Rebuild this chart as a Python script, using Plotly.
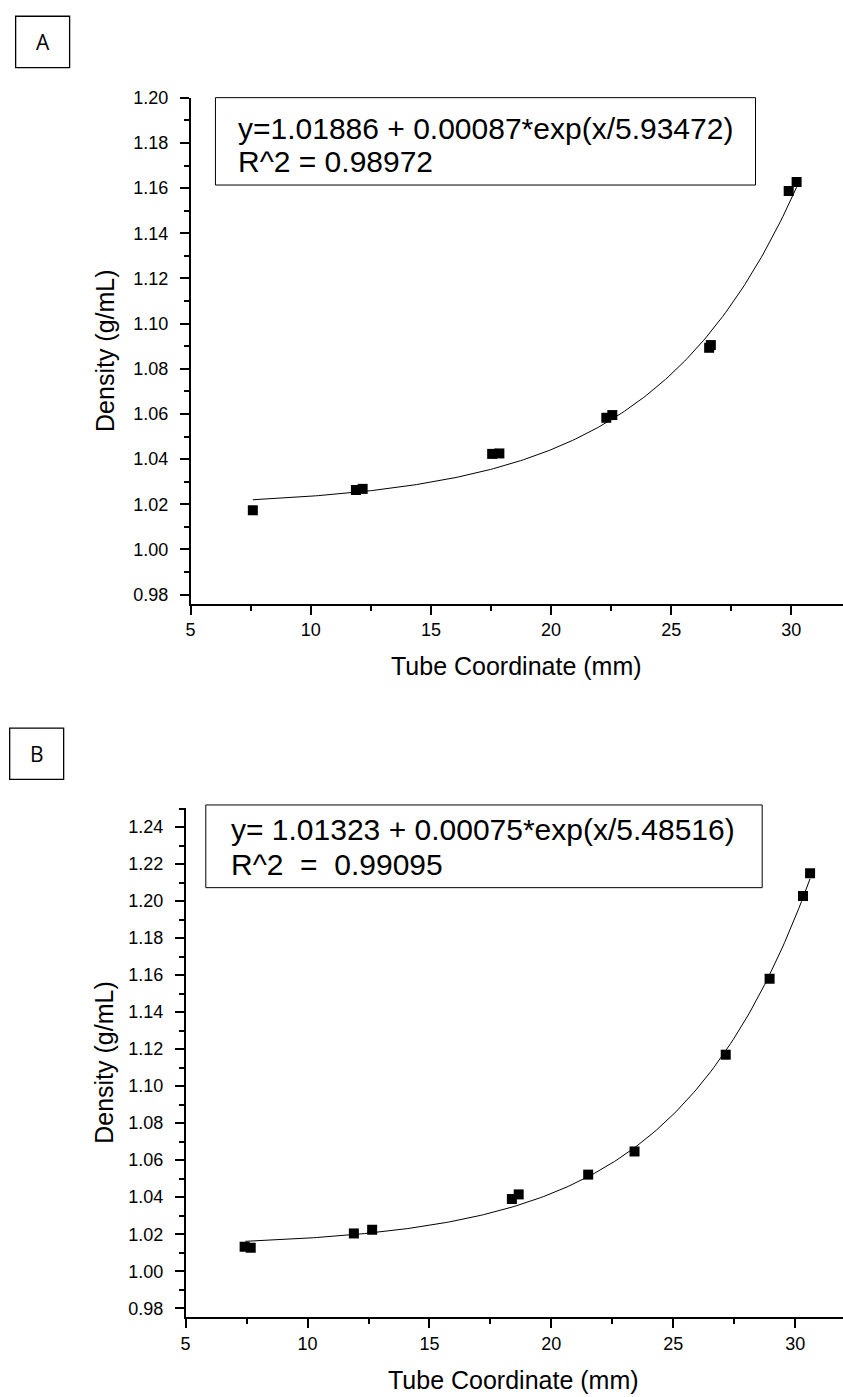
import numpy as np
import plotly.graph_objects as go

W, H = 843, 1397

# ---------------- Data ----------------
# Panel A
a_x = [7.59, 11.88, 12.16, 17.55, 17.85, 22.30, 22.55, 26.58, 26.65, 29.89, 30.22]
a_y = [1.0173, 1.0263, 1.0268, 1.0423, 1.0425, 1.0583, 1.0595, 1.0893, 1.0905, 1.1588, 1.1627]
a_fit = dict(y0=1.01886, A=0.00087, t=5.93472, xmin=7.59, xmax=30.22)
a_eq = ["y=1.01886 + 0.00087*exp(x/5.93472)", "R^2 = 0.98972"]

# Panel B
b_x = [7.42, 7.67, 11.90, 12.65, 18.38, 18.66, 21.51, 23.41, 27.15, 28.95, 30.32, 30.61]
b_y = [1.0132, 1.0127, 1.0204, 1.0224, 1.0390, 1.0415, 1.0522, 1.0647, 1.1170, 1.1581, 1.2028, 1.2150]
b_fit = dict(y0=1.01323, A=0.00075, t=5.48516, xmin=7.45, xmax=30.61)
b_eq = ["y= 1.01323 + 0.00075*exp(x/5.48516)", "R^2  =  0.99095"]

x_title = "Tube Coordinate (mm)"
y_title = "Density (g/mL)"
panel_labels = ["A", "B"]

# ---------------- Figure ----------------
fig = go.Figure()

def fit_curve(p):
    xs = np.linspace(p["xmin"], p["xmax"], 200)
    return xs, p["y0"] + p["A"] * np.exp(xs / p["t"])

for (xs, ys, p, xa, ya) in [(a_x, a_y, a_fit, "x", "y"), (b_x, b_y, b_fit, "x2", "y2")]:
    cx, cy = fit_curve(p)
    fig.add_trace(go.Scatter(x=cx, y=cy, mode="lines", line=dict(color="black", width=1),
                             xaxis=xa, yaxis=ya, showlegend=False, hoverinfo="skip"))
    fig.add_trace(go.Scatter(x=xs, y=ys, mode="markers",
                             marker=dict(symbol="square", size=10, color="black"),
                             xaxis=xa, yaxis=ya, showlegend=False))

def py(pix):
    return 1 - pix / H

def px(pix):
    return pix / W

FONT = "Arial, Liberation Sans, sans-serif"

common_x = dict(showline=True, linecolor="black", linewidth=1.5, ticks="outside",
                ticklen=9, tickwidth=1.5, tickcolor="black", showgrid=False, zeroline=False,
                tick0=5, dtick=5, tickfont=dict(size=18, color="black", family=FONT),
                minor=dict(dtick=2.5, ticklen=5, tickwidth=1.5, tickcolor="black", ticks="outside"))
common_y = dict(showline=True, linecolor="black", linewidth=1.5, ticks="outside",
                ticklen=9, tickwidth=1.5, tickcolor="black", showgrid=False, zeroline=False,
                tick0=0.98, dtick=0.02, tickformat=".2f", ticklabelstandoff=8,
                tickfont=dict(size=18, color="black", family=FONT),
                minor=dict(dtick=0.01, ticklen=5, tickwidth=1.5, tickcolor="black", ticks="outside"))

fig.update_layout(
    width=W, height=H, margin=dict(l=0, r=0, t=0, b=0),
    paper_bgcolor="white", plot_bgcolor="white",
    font=dict(family=FONT, color="black"),
    xaxis=dict(domain=[px(186.7), 1], range=[5, 32.15], anchor="y", **common_x),
    yaxis=dict(domain=[py(599.3), py(89.3)], range=[0.9758, 1.2001], anchor="x", **common_y),
    xaxis2=dict(domain=[px(181.7), 1], range=[5, 31.96], anchor="y2", **common_x),
    yaxis2=dict(domain=[py(1317.7), py(805)], range=[0.9751, 1.2502], anchor="x2", **common_y),
)

shapes = []
annotations = []

# equation boxes
for (x0, x1, y0, y1) in [(211.7, 755, 89.3, 177.3), (202, 761.7, 801.7, 885)]:
    shapes.append(dict(type="rect", xref="paper", yref="paper",
                       x0=px(x0), x1=px(x1), y0=py(y1), y1=py(y0),
                       line=dict(color="black", width=1)))
for eq, xl, ycs in [(a_eq, 232, (120, 154)), (b_eq, 225, (826, 862))]:
    for line, yc in zip(eq, ycs):
        annotations.append(dict(text=line, xref="paper", yref="paper", x=px(xl), y=py(yc),
                                xanchor="left", yanchor="middle", showarrow=False,
                                font=dict(size=30, color="black", family=FONT)))

# panel label boxes
for lab, (x0, x1, y0, y1) in zip(panel_labels, [(10.7, 65, 7.3, 59), (4.7, 59, 724.3, 776)]):
    shapes.append(dict(type="rect", xref="paper", yref="paper",
                       x0=px(x0), x1=px(x1), y0=py(y1), y1=py(y0),
                       line=dict(color="black", width=1.3)))
    annotations.append(dict(text=lab, xref="paper", yref="paper",
                            x=px((x0 + x1) / 2), y=py((y0 + y1) / 2),
                            xanchor="center", yanchor="middle", showarrow=False,
                            font=dict(size=21, color="black", family="Open Sans, sans-serif")))

# axis titles
for (xc, yc) in [(515, 662), (512, 1381)]:
    annotations.append(dict(text=x_title, xref="paper", yref="paper", x=px(xc), y=py(yc),
                            xanchor="center", yanchor="middle", showarrow=False,
                            font=dict(size=25, color="black", family=FONT)))
for (xc, yc) in [(100, 344), (100, 1061)]:
    annotations.append(dict(text=y_title, xref="paper", yref="paper", x=px(xc), y=py(yc),
                            xanchor="center", yanchor="middle", showarrow=False, textangle=-90,
                            font=dict(size=25, color="black", family=FONT)))

fig.update_layout(shapes=shapes, annotations=annotations)
fig.write_html("out.html")
